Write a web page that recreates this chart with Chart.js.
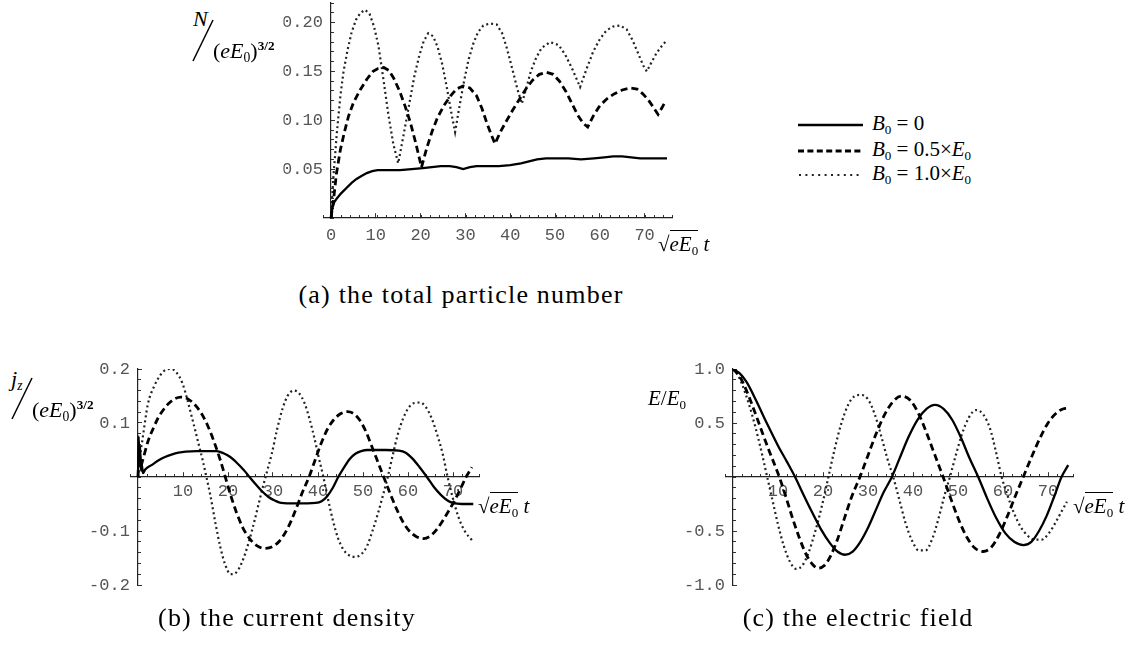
<!DOCTYPE html>
<html><head><meta charset="utf-8">
<script src="https://cdn.jsdelivr.net/npm/chart.js@4.4.1/dist/chart.umd.min.js"></script>
<style>
html,body{margin:0;padding:0;background:#fff;width:1129px;height:645px;overflow:hidden;position:relative;font-family:"Liberation Serif",serif;color:#000}
canvas{position:absolute}
.t{position:absolute;white-space:nowrap;line-height:1;font-family:"Liberation Serif",serif}
sub{font-size:0.62em;vertical-align:-0.32em;line-height:0}
sup{font-size:0.6em;vertical-align:0.62em;line-height:0;font-weight:bold}
.cap{position:absolute;font-family:"Liberation Serif",serif;font-size:26px;letter-spacing:1.2px;transform:translateX(-50%);white-space:nowrap;line-height:1}
.sq{border-top:1.3px solid #000;padding-top:1px}
</style></head><body>
<svg width="1129" height="645" style="position:absolute;left:0;top:0">
  <line x1="193" y1="61" x2="213" y2="20" stroke="#000" stroke-width="1.5"/>
  <line x1="12" y1="419" x2="32" y2="378" stroke="#000" stroke-width="1.5"/>
  <line x1="798" y1="125" x2="863" y2="125" stroke="#000" stroke-width="2.4"/>
  <line x1="798" y1="151" x2="863" y2="151" stroke="#000" stroke-width="2.8" stroke-dasharray="6 3.4"/>
  <line x1="799" y1="175" x2="863" y2="175" stroke="#222" stroke-width="2.2" stroke-dasharray="2 4.4"/>
</svg>
<canvas id="ca"></canvas>
<canvas id="cb"></canvas>
<canvas id="cc"></canvas>

<!-- axis titles -->
<div class="t" style="left:193px;top:8px;font-size:22px"><i>N</i></div>
<div class="t" style="left:213px;top:40px;font-size:22px">(<i>eE</i><sub>0</sub>)<sup>3/2</sup></div>
<div class="t" style="left:11px;top:368px;font-size:22px"><i>j</i><sub><i>z</i></sub></div>
<div class="t" style="left:32px;top:399px;font-size:22px">(<i>eE</i><sub>0</sub>)<sup>3/2</sup></div>
<div class="t" style="left:648px;top:388px;font-size:21px"><i>E</i>/<i>E</i><sub>0</sub></div>

<div class="t" style="left:658px;top:234px;font-size:21px">√<span class="sq"><i>eE</i><sub>0</sub></span>&nbsp;<i>t</i></div>
<div class="t" style="left:478px;top:496px;font-size:21px">√<span class="sq"><i>eE</i><sub>0</sub></span>&nbsp;<i>t</i></div>
<div class="t" style="left:1073px;top:496px;font-size:21px">√<span class="sq"><i>eE</i><sub>0</sub></span>&nbsp;<i>t</i></div>

<!-- legend text -->
<div class="t" style="left:872px;top:113px;font-size:21px"><i>B</i><sub>0</sub> = 0</div>
<div class="t" style="left:872px;top:139px;font-size:21px"><i>B</i><sub>0</sub> = 0.5×<i>E</i><sub>0</sub></div>
<div class="t" style="left:872px;top:163px;font-size:21px"><i>B</i><sub>0</sub> = 1.0×<i>E</i><sub>0</sub></div>

<!-- captions -->
<div class="cap" style="left:461px;top:282px">(a) the total particle number</div>
<div class="cap" style="left:287px;top:605px">(b) the current density</div>
<div class="cap" style="left:858px;top:605px">(c) the electric field</div>

<script>
// ---------- data: [sqrt(eE0) t, value] ----------
// (a) total particle number N/(eE0)^{3/2}
const nB00 = [[0,0],[0.3,0.010],[0.7,0.016],[1.3,0.020],[2.2,0.025],[3.5,0.031],[4.6,0.036],[5.7,0.040],[6.8,0.043],[8,0.046],[9.2,0.048],[10.4,0.049],[12.5,0.049],[15.4,0.049],[18,0.050],[20.5,0.051],[22.5,0.052],[24.5,0.053],[26.5,0.053],[28,0.052],[29.5,0.050],[31,0.052],[32.5,0.053],[35,0.053],[37.5,0.053],[40,0.054],[42.4,0.056],[44.2,0.058],[46,0.060],[48,0.061],[50,0.061],[53,0.061],[55.8,0.060],[58.7,0.061],[61,0.062],[63,0.063],[65,0.063],[67,0.062],[69,0.061],[72,0.061],[75,0.061]];
const nB05 = [[0,0],[0.6,0.020],[1.2,0.045],[2.1,0.070],[3,0.088],[3.9,0.104],[5,0.118],[6.5,0.131],[8,0.142],[9.4,0.150],[10.5,0.153],[11.8,0.154],[12.9,0.151],[14,0.143],[15.3,0.130],[16.5,0.115],[17.7,0.098],[18.9,0.077],[20.2,0.052],[21.4,0.072],[22.6,0.089],[23.8,0.103],[25.2,0.115],[26.7,0.125],[28,0.132],[29.5,0.135],[31,0.133],[32.5,0.125],[33.7,0.112],[34.8,0.097],[35.8,0.085],[36.6,0.076],[37.8,0.088],[39,0.098],[40.5,0.110],[42,0.121],[43.5,0.132],[45,0.141],[46.5,0.147],[48.1,0.149],[49.6,0.147],[51,0.140],[52.5,0.129],[53.8,0.117],[55.1,0.105],[56.3,0.097],[57.3,0.093],[58.5,0.104],[60,0.115],[61.6,0.122],[63.2,0.127],[65,0.131],[66.7,0.133],[68.3,0.132],[69.6,0.127],[70.8,0.121],[72,0.113],[73,0.106],[73.9,0.113],[74.6,0.119]];
const nB10 = [[0,0],[0.5,0.040],[1.3,0.087],[2.1,0.125],[2.8,0.150],[3.7,0.172],[4.6,0.190],[5.6,0.203],[6.6,0.210],[7.6,0.213],[8.6,0.209],[9.6,0.196],[10.6,0.176],[11.7,0.142],[12.8,0.106],[13.9,0.076],[15,0.056],[16.2,0.085],[17.4,0.115],[18.6,0.145],[19.7,0.166],[20.7,0.181],[21.7,0.189],[22.8,0.186],[23.8,0.175],[24.8,0.158],[25.8,0.135],[26.8,0.109],[27.7,0.088],[28.7,0.115],[29.7,0.140],[30.7,0.162],[31.8,0.179],[32.8,0.190],[34,0.197],[35.5,0.199],[37,0.198],[38.2,0.189],[39.3,0.173],[40.5,0.152],[41.6,0.132],[42.6,0.117],[43.6,0.133],[44.6,0.150],[45.8,0.164],[47,0.174],[48.9,0.180],[50.8,0.177],[52.3,0.167],[53.9,0.152],[55.6,0.134],[57,0.152],[58.5,0.170],[60,0.183],[61.5,0.192],[63,0.196],[64.5,0.197],[66,0.193],[67.3,0.182],[68.6,0.168],[69.7,0.156],[70.5,0.150],[71.5,0.159],[72.7,0.169],[74,0.177],[75,0.182]];
// (b) current density j_z/(eE0)^{3/2}
const jB00 = [[0,0],[0.15,0.075],[0.3,0.030],[0.45,0.058],[0.65,0.012],[0.85,0.022],[1.1,0.007],[1.6,0.014],[3,0.022],[4.6,0.031],[6,0.037],[7.6,0.042],[9,0.045],[10.6,0.047],[13,0.048],[17.5,0.048],[19,0.044],[20.5,0.037],[22,0.026],[23.5,0.013],[24.8,0],[26,-0.012],[27.5,-0.026],[29,-0.037],[30.5,-0.044],[31.8,-0.048],[35,-0.049],[39.5,-0.048],[40.8,-0.045],[42,-0.036],[43.3,-0.020],[44.5,0],[45.8,0.018],[47,0.033],[48.3,0.043],[49.6,0.048],[51,0.050],[55,0.050],[58,0.049],[59.5,0.045],[61,0.034],[62.5,0.019],[64.2,0],[65.8,-0.019],[67.3,-0.033],[68.7,-0.043],[70,-0.048],[72,-0.050],[74.5,-0.050]];
const jB05 = [[0,0],[0.3,0.050],[0.6,0.020],[1,0.030],[2.3,0.068],[3.5,0.092],[4.5,0.110],[5.6,0.124],[6.8,0.136],[8,0.144],[9.5,0.148],[11,0.145],[12.5,0.135],[14,0.119],[15.5,0.095],[17,0.063],[18.3,0.031],[19.4,0],[20.6,-0.034],[21.9,-0.066],[23.3,-0.094],[24.8,-0.114],[26.4,-0.127],[28.2,-0.132],[29.9,-0.129],[31.4,-0.119],[32.8,-0.102],[34.1,-0.080],[35.3,-0.055],[36.6,-0.027],[38,0],[39.3,0.030],[40.6,0.060],[42,0.087],[43.5,0.106],[45,0.117],[46.5,0.121],[48,0.117],[49.3,0.105],[50.6,0.085],[51.9,0.058],[53.3,0.028],[54.6,0],[56,-0.030],[57.4,-0.058],[58.8,-0.082],[60.3,-0.100],[61.8,-0.110],[63.5,-0.114],[65,-0.109],[66.4,-0.097],[67.8,-0.080],[69.1,-0.062],[70.4,-0.043],[71.6,-0.023],[72.9,0],[74.2,0.018]];
const jB10 = [[0,0],[0.4,0.035],[1,0.070],[2.2,0.135],[3.6,0.168],[5,0.189],[6.3,0.199],[7.4,0.200],[8.6,0.193],[9.9,0.173],[11,0.142],[11.9,0.113],[12.7,0.087],[13.5,0.060],[14.4,0.030],[15.2,0],[16.1,-0.035],[17.2,-0.085],[18.3,-0.130],[19.4,-0.163],[20.6,-0.180],[21.8,-0.177],[23,-0.160],[24.2,-0.132],[25.4,-0.097],[26.6,-0.057],[27.7,-0.020],[28.6,0.008],[29.7,0.042],[30.9,0.088],[32.1,0.126],[33.3,0.151],[34.6,0.160],[35.8,0.155],[37,0.137],[38.1,0.108],[39.2,0.072],[40.2,0.035],[41.2,0],[42.2,-0.040],[43.3,-0.080],[44.4,-0.112],[45.6,-0.134],[46.9,-0.145],[48.3,-0.148],[49.6,-0.143],[50.9,-0.128],[52.1,-0.100],[53.3,-0.068],[54.4,-0.035],[55.5,0],[56.6,0.040],[57.7,0.078],[58.9,0.108],[60.1,0.128],[61.4,0.137],[62.7,0.138],[64,0.129],[65.3,0.108],[66.5,0.078],[67.7,0.043],[68.8,0],[70,-0.040],[71.2,-0.074],[72.6,-0.100],[74.2,-0.117]];
// (c) electric field E/E0
const eB00 = [[0,1.0],[1.5,0.96],[3,0.88],[5,0.72],[7.5,0.50],[10,0.29],[12,0.14],[13.8,0],[15.5,-0.15],[17.5,-0.32],[19.5,-0.48],[21.5,-0.61],[23.2,-0.69],[24.9,-0.72],[26.6,-0.69],[28.3,-0.60],[30,-0.47],[31.8,-0.30],[33.5,-0.14],[35.3,0],[37,0.17],[39,0.37],[41,0.53],[43,0.63],[44.9,0.667],[46.8,0.63],[48.7,0.53],[50.6,0.37],[52.5,0.18],[54.5,0],[56.5,-0.20],[58.5,-0.38],[60.5,-0.52],[62.5,-0.60],[64.5,-0.63],[66.3,-0.60],[68,-0.50],[69.7,-0.36],[71.3,-0.19],[73,0],[74.5,0.11]];
const eB05 = [[0,1.0],[1.5,0.93],[3,0.80],[4.5,0.64],[6,0.47],[7.5,0.30],[9,0.14],[10.3,0],[11.8,-0.19],[13.3,-0.39],[14.8,-0.57],[16.3,-0.72],[17.7,-0.81],[19,-0.845],[20.3,-0.82],[21.7,-0.73],[23.2,-0.58],[24.7,-0.39],[26.4,-0.18],[28.2,0],[30,0.20],[31.8,0.40],[33.6,0.57],[35.4,0.69],[37.4,0.75],[39.4,0.71],[41.2,0.59],[43,0.41],[44.8,0.21],[46.7,0],[48.4,-0.20],[50.2,-0.40],[52,-0.56],[53.8,-0.66],[55.6,-0.69],[57.4,-0.65],[59.2,-0.53],[61,-0.36],[62.7,-0.18],[64.5,0],[66.3,0.18],[68.1,0.35],[70,0.50],[71.8,0.59],[73.3,0.63],[74.5,0.636]];
const eB10 = [[0,1.0],[1,0.95],[2,0.86],[3.5,0.68],[5,0.46],[6.4,0.22],[7.6,0],[8.8,-0.22],[10,-0.44],[11.3,-0.64],[12.6,-0.78],[14,-0.85],[15.4,-0.82],[16.8,-0.70],[18.3,-0.50],[19.8,-0.26],[21.2,0],[22.6,0.26],[24.1,0.50],[25.6,0.67],[27.1,0.75],[28.5,0.76],[30,0.72],[31.5,0.58],[33,0.37],[34.3,0.17],[35.6,0],[36.9,-0.20],[38.3,-0.42],[39.8,-0.59],[41.3,-0.68],[42.8,-0.68],[44.3,-0.57],[45.7,-0.38],[47,-0.17],[48.2,0],[49.5,0.20],[50.9,0.40],[52.4,0.55],[54,0.62],[55.6,0.58],[57.1,0.45],[58.4,0.24],[59.7,0],[61,-0.17],[62.4,-0.33],[63.9,-0.46],[65.4,-0.54],[67,-0.58],[68.6,-0.58],[70.2,-0.52],[71.7,-0.42],[73,-0.32],[74.2,-0.23]];

const seriesNames = ['B₀ = 0', 'B₀ = 0.5×E₀', 'B₀ = 1.0×E₀'];
// tick labels
const xTicksA = [0,10,20,30,40,50,60,70];
const xTicksBC = [10,20,30,40,50,60,70];
const yTicksA = [0.05,0.10,0.15,0.20];
const yTicksB = [-0.2,-0.1,0.1,0.2];
const yTicksC = [-1.0,-0.5,0.5,1.0];

// ---------- drawing ----------
Chart.defaults.font.family = '"Liberation Mono", monospace';
Chart.defaults.font.size = 17;
const TICK_COLOR = '#555';
const seriesStyle = [
  {borderColor:'#000', borderWidth:2.3, borderDash:[]},
  {borderColor:'#000', borderWidth:2.8, borderDash:[7,4]},
  {borderColor:'#222', borderWidth:2.2, borderDash:[2,3]}
];
const M = 40, YW = 40;

function panel(id, g, series, xTicks, yTicks, yDigits, yMinor, smooth) {
  const chartLeft = g.x0 + g.xMin * g.s;
  const chartRight = g.x0 + g.xMax * g.s;
  const cl = Math.floor(chartLeft) - YW - M;
  const ct = Math.floor(g.top) - M;
  const cw = Math.ceil(chartRight) - cl + M;
  const ch = Math.ceil(g.bottom) - ct + M;
  const cv = document.getElementById(id);
  cv.width = cw; cv.height = ch;
  cv.style.left = cl + 'px'; cv.style.top = ct + 'px';
  cv.style.width = cw + 'px'; cv.style.height = ch + 'px';
  const pad = {left: chartLeft - cl - YW, top: g.top - ct, right: cw - (chartRight - cl), bottom: ch - (g.bottom - ct)};
  const setTicks = arr => s => { s.ticks = arr.map(v => ({value: v})); };
  const xr = {type:'linear', min:g.xMin, max:g.xMax};
  const yr = {type:'linear', min:g.yMin, max:g.yMax};
  new Chart(cv, {
    type: 'line',
    data: {
      datasets: series.map((d, i) => Object.assign({
        label: seriesNames[i], data: d, pointRadius: 0, fill: false,
        tension: smooth ? 0.4 : 0, cubicInterpolationMode: smooth ? 'monotone' : 'default'
      }, seriesStyle[i]))
    },
    options: {
      responsive: false, animation: false, events: [],
      layout: {padding: pad},
      plugins: {legend: {display: false}, tooltip: {enabled: false}},
      scales: {
        x: Object.assign({}, xr, {
          position: {y: 0},
          afterBuildTicks: setTicks(xTicks),
          ticks: {autoSkip: false, maxRotation: 0, padding: g.xPad, color: TICK_COLOR,
                  callback: v => String(v)},
          grid: {drawOnChartArea: false, drawTicks: true, tickLength: -5, tickColor: '#333', tickWidth: 1},
          border: {display: true, color: '#222', width: 1.2}
        }),
        xm: Object.assign({}, xr, {
          position: {y: 0},
          ticks: {display: false, stepSize: 2},
          grid: {drawOnChartArea: false, drawTicks: true, tickLength: -3, tickColor: '#333', tickWidth: 1},
          border: {display: false}
        }),
        y: Object.assign({}, yr, {
          position: 'left',
          afterFit: s => { s.width = YW; },
          afterBuildTicks: setTicks(yTicks),
          ticks: {autoSkip: false, padding: 0.5, color: TICK_COLOR, callback: v => v.toFixed(yDigits)},
          grid: {display: false, drawTicks: false},
          border: {display: false}
        }),
        yM: Object.assign({}, yr, {
          position: {x: 0},
          afterBuildTicks: setTicks(yTicks),
          ticks: {display: false},
          grid: {drawOnChartArea: false, drawTicks: true, tickLength: -5, tickColor: '#333', tickWidth: 1},
          border: {display: true, color: '#222', width: 1.2}
        }),
        ym: Object.assign({}, yr, {
          position: {x: 0},
          ticks: {display: false, stepSize: yMinor},
          grid: {drawOnChartArea: false, drawTicks: true, tickLength: -3, tickColor: '#333', tickWidth: 1},
          border: {display: false}
        })
      }
    }
  });
}

panel('ca', {x0:331, s:4.48, xMin:-1.7, xMax:76.3, top:3, bottom:218, yMin:0, yMax:0.22, xPad:12},
      [nB00, nB05, nB10], xTicksA, yTicksA, 2, 0.01, false);
panel('cb', {x0:138, s:4.5, xMin:-1.7, xMax:75.8, top:369, bottom:585, yMin:-0.2, yMax:0.2, xPad:9},
      [jB00, jB05, jB10], xTicksBC, yTicksB, 1, 0.02, true);
panel('cc', {x0:733, s:4.5, xMin:-1.7, xMax:75.6, top:369, bottom:585, yMin:-1, yMax:1, xPad:9},
      [eB00, eB05, eB10], xTicksBC, yTicksC, 1, 0.1, true);
</script>
</body></html>
